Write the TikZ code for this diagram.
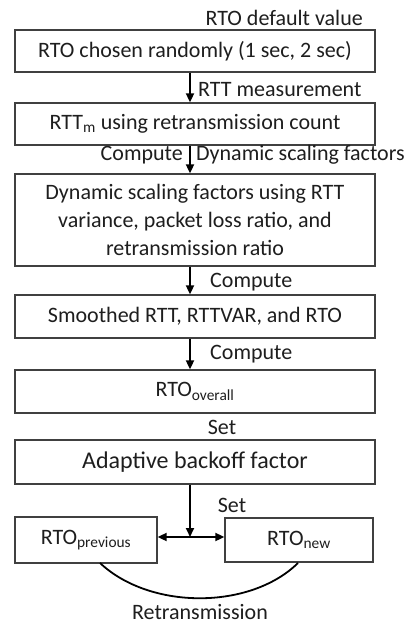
\documentclass[tikz,border=0pt]{standalone}
\usepackage{fontspec}
\setmainfont{Carlito}
\usetikzlibrary{arrows.meta}
\definecolor{txt}{HTML}{1E1E1E}
\definecolor{bord}{HTML}{404040}
\begin{document}
\begin{tikzpicture}[x=1pt,y=-1pt,
  box/.style={draw=bord, line width=1.3pt, text=txt, inner sep=0pt, font=\fontsize{22}{28}\selectfont, align=center},
  lbl/.style={text=txt, inner sep=0pt, font=\fontsize{22}{26}\selectfont},
  arr/.style={line width=1.8pt, -{Triangle[length=9pt,width=8pt]}},
  link/.style={line width=1.8pt}]
\useasboundingbox (0,0) rectangle (411,626);
\fill[white] (0,0) rectangle (411,626);
\coordinate (ax) at (190,0);
\node[box, minimum width=360pt, minimum height=42pt] (b1) at (195,51) {RTO chosen randomly (1 sec, 2 sec)};
\node[box, minimum width=360pt, minimum height=42pt] (b2) at (195,124) {RTT\textsubscript{m} using retransmission count};
\node[box, minimum width=360pt, minimum height=92pt] (b3) at (195,220) {Dynamic scaling factors using RTT\\variance, packet loss ratio, and\\retransmission ratio};
\node[box, minimum width=360pt, minimum height=43pt] (b4) at (195,316.5) {Smoothed RTT, RTTVAR, and RTO};
\node[box, minimum width=360pt, minimum height=43pt] (b5) at (195,391.5) {RTO\textsubscript{overall}};
\node[box, minimum width=360pt, minimum height=44pt, font=\fontsize{24}{28}\selectfont] (b6) at (195,462) {Adaptive backoff factor};
\node[box, minimum width=142pt, minimum height=46pt] (b7) at (86,540) {RTO\textsubscript{previous}};
\node[box, minimum width=148pt, minimum height=44pt] (b8) at (299,540) {RTO\textsubscript{new}};
\coordinate (j) at (190,537);
\coordinate (cl) at (100,563);
\coordinate (cr) at (298,563);

\node[lbl, anchor=east] (l0) at (363,18) {RTO default value};
\draw[arr] (b1.south -| ax) -- (b2.north -| ax);
\node[lbl, anchor=west] (l1) at (198,90) {RTT measurement};
\draw[arr] (b2.south -| ax) -- (b3.north -| ax);
\node[lbl, anchor=east] (l2a) at (183,155) {Compute};
\node[lbl, anchor=west] (l2b) at (196,155) {Dynamic scaling factors};
\draw[arr] (b3.south -| ax) -- (b4.north -| ax);
\node[lbl, anchor=west] (l3) at (210,282) {Compute};
\draw[arr] (b4.south -| ax) -- (b5.north -| ax);
\node[lbl, anchor=west] (l4) at (210,354) {Compute};
\node[lbl] (l5) at (222,427) {Set};
\draw[arr] (b6.south -| ax) -- (j);
\node[lbl] (l6) at (232,505) {Set};
\draw[arr] (j) -- (j -| b7.east);
\draw[arr] (j) -- (j -| b8.west);
\draw[link] (cl) .. controls (150,610) and (250,610) .. (cr);
\node[lbl] (l7) at (200,612) {Retransmission};
\end{tikzpicture}
\end{document}
